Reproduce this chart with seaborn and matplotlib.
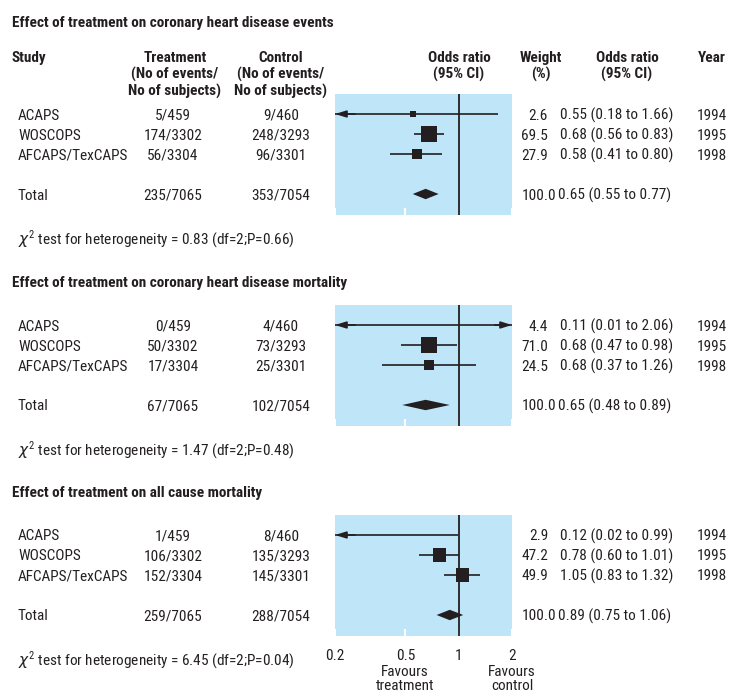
import os
import numpy as np
import pandas as pd
import seaborn as sns
import matplotlib
matplotlib.use("Agg")
import matplotlib.pyplot as plt
from matplotlib import font_manager as fm
from matplotlib.font_manager import FontProperties
from matplotlib.transforms import blended_transform_factory
from matplotlib.ticker import NullLocator

# ---------------- data ----------------
studies = ["ACAPS", "WOSCOPS", "AFCAPS/TexCAPS"]
years = ["1994", "1995", "1998"]

titles = ["Effect of treatment on coronary heart disease events",
          "Effect of treatment on coronary heart disease mortality",
          "Effect of treatment on all cause mortality"]

treat_counts = [["5/459", "174/3302", "56/3304"],
                ["0/459", "50/3302", "17/3304"],
                ["1/459", "106/3302", "152/3304"]]
treat_totals = ["235/7065", "67/7065", "259/7065"]
ctrl_counts = [["9/460", "248/3293", "96/3301"],
               ["4/460", "73/3293", "25/3301"],
               ["8/460", "135/3293", "145/3301"]]
ctrl_totals = ["353/7054", "102/7054", "288/7054"]

weights = [[2.6, 69.5, 27.9],
           [4.4, 71.0, 24.5],
           [2.9, 47.2, 49.9]]
odds = [[0.55, 0.68, 0.58],
        [0.11, 0.68, 0.68],
        [0.12, 0.78, 1.05]]
ci_low = [[0.18, 0.56, 0.41],
          [0.01, 0.47, 0.37],
          [0.02, 0.60, 0.83]]
ci_high = [[1.66, 0.83, 0.80],
           [2.06, 0.98, 1.26],
           [0.99, 1.01, 1.32]]
total_or = [0.65, 0.65, 0.89]
total_low = [0.55, 0.48, 0.75]
total_high = [0.77, 0.89, 1.06]
chi_texts = ["0.83 (df=2;P=0.66)", "1.47 (df=2;P=0.48)", "6.45 (df=2;P=0.04)"]

tick_values = [0.2, 0.5, 1, 2]
tick_labels = ["0.2", "0.5", "1", "2"]

# ---------------- fonts ----------------
sns.set_theme(style="white")
plt.rcParams["font.family"] = ["Roboto Condensed", "DejaVu Sans"]
plt.rcParams["mathtext.fontset"] = "dejavusans"

FS = 11.0
reg_file = bold_file = None
for f in fm.fontManager.ttflist:
    b = os.path.basename(f.fname)
    if b == "RobotoCondensed-Regular.ttf":
        reg_file = f.fname
    elif b == "RobotoCondensed-Bold.ttf":
        bold_file = f.fname


def fp(bold=False, size=FS):
    fn = bold_file if bold else reg_file
    if fn:
        return FontProperties(fname=fn, size=size)
    return FontProperties(family="DejaVu Sans", stretch="condensed",
                          weight="bold" if bold else "normal", size=size * 0.85)


BLUE = "#BEE5F8"
INK = "#231F20"
W, H = 731, 694

fig = plt.figure(figsize=(W / 100, H / 100), dpi=100)
fig.patch.set_facecolor("white")


def fx(x):
    return x / W


def fy(y):
    return 1 - y / H


def ftext(x, y, s, bold=False, **kw):
    kw.setdefault("color", INK)
    fig.text(fx(x), fy(y), s, fontproperties=fp(bold), **kw)


# header
for xc, lines, ha in [(12, ["Study"], "left"),
                      (175, ["Treatment", "(No of events/", "No of subjects)"], "center"),
                      (281, ["Control", "(No of events/", "No of subjects)"], "center"),
                      (459, ["Odds ratio", "(95% CI)"], "center"),
                      (541, ["Weight", "(%)"], "center"),
                      (627, ["Odds ratio", "(95% CI)"], "center"),
                      (712, ["Year"], "center")]:
    for i, line in enumerate(lines):
        ftext(xc, 56.5 + i * 16.7, line, bold=True, ha=ha, va="center_baseline")

panel_px = [(94, 215), (305, 426), (515, 636)]
title_y = [22, 281, 491]

for p in range(3):
    top, bottom = panel_px[p]
    ax = fig.add_axes([fx(335), fy(bottom), fx(512) - fx(335), (bottom - top) / H])
    ax.set_facecolor(BLUE)
    for s in ax.spines.values():
        s.set_visible(False)

    df = pd.DataFrame({
        "study": studies,
        "or": odds[p],
        "lo": ci_low[p],
        "hi": ci_high[p],
        "weight": weights[p],
        "row": np.arange(len(studies)),
    })

    ax.set_xscale("log")
    astyle = "-|>,head_length=0.55,head_width=0.17"
    for _, r in df.iterrows():
        lo = max(r["lo"], 0.2)
        hi = min(r["hi"], 2)
        ax.hlines(r["row"], lo, hi, color=INK, lw=1.2, zorder=2)
        if r["lo"] < 0.2:
            ax.annotate("", xy=(0.2, r["row"]), xytext=(0.26, r["row"]),
                        arrowprops=dict(arrowstyle=astyle, color=INK, lw=1.2,
                                        shrinkA=0, shrinkB=0),
                        annotation_clip=False, zorder=3)
        if r["hi"] > 2:
            ax.annotate("", xy=(2, r["row"]), xytext=(1.6, r["row"]),
                        arrowprops=dict(arrowstyle=astyle, color=INK, lw=1.2,
                                        shrinkA=0, shrinkB=0),
                        annotation_clip=False, zorder=3)

    vis = df[(df["or"] >= 0.2) & (df["or"] <= 2)]
    size_map = {w: (max(1.95 * np.sqrt(w), 5.5) * 0.72) ** 2 for w in vis["weight"]}
    sns.scatterplot(data=vis, x="or", y="row", size="weight", sizes=size_map,
                    marker="s", color=INK, edgecolor="none", linewidth=0,
                    legend=False, ax=ax, zorder=4)

    trow = 4
    ax.fill([total_low[p], total_or[p], total_high[p], total_or[p]],
            [trow, trow - 0.26, trow, trow + 0.26], color=INK, lw=0, zorder=4)

    ax.axvline(1, color=INK, lw=1.3, zorder=3)

    ax.set_xlim(0.2, 2)
    ax.set_ylim(5.05, -1)
    ax.set_xlabel("")
    ax.set_ylabel("")
    ax.set_yticks([])
    ax.xaxis.set_minor_locator(NullLocator())
    ax.set_xticks(tick_values)
    ax.tick_params(axis="x", direction="in", color="white", length=5, width=1.5,
                   labelcolor=INK, pad=9, bottom=True)
    if p == 2:
        ax.set_xticklabels(tick_labels)
        for lab in ax.get_xticklabels():
            lab.set_fontproperties(fp())
    else:
        ax.set_xticklabels([])

    T = blended_transform_factory(fig.transFigure, ax.transData)
    kw = dict(transform=T, color=INK, va="center_baseline", fontproperties=fp())

    for i in range(3):
        fig.text(fx(18), i, studies[i], ha="left", **kw)
        fig.text(fx(173), i, treat_counts[p][i], ha="center", **kw)
        fig.text(fx(281), i, ctrl_counts[p][i], ha="center", **kw)
        fig.text(fx(548), i, f"{weights[p][i]:.1f}", ha="right", **kw)
        fig.text(fx(560), i, f"{odds[p][i]:.2f} ({ci_low[p][i]:.2f} to {ci_high[p][i]:.2f})",
                 ha="left", **kw)
        fig.text(fx(697), i, years[i], ha="left", **kw)
    fig.text(fx(18), trow, "Total", ha="left", **kw)
    fig.text(fx(173), trow, treat_totals[p], ha="center", **kw)
    fig.text(fx(281), trow, ctrl_totals[p], ha="center", **kw)
    fig.text(fx(556), trow, "100.0", ha="right", **kw)
    fig.text(fx(558.5), trow, f"{total_or[p]:.2f} ({total_low[p]:.2f} to {total_high[p]:.2f})",
             ha="left", **kw)

    fig.text(fx(18), 6.1, r"$\chi^{\mathregular{2}}$ test for heterogeneity = " + chi_texts[p],
             ha="left", **kw)

    ftext(12, title_y[p], titles[p], bold=True, ha="left", va="center_baseline")

ftext(405, 678.5, "Favours\ntreatment", ha="center", va="center", linespacing=1.0)
ftext(512, 678.5, "Favours\ncontrol", ha="center", va="center", linespacing=1.0)

fig.savefig("out.png", dpi=100, facecolor="white")
